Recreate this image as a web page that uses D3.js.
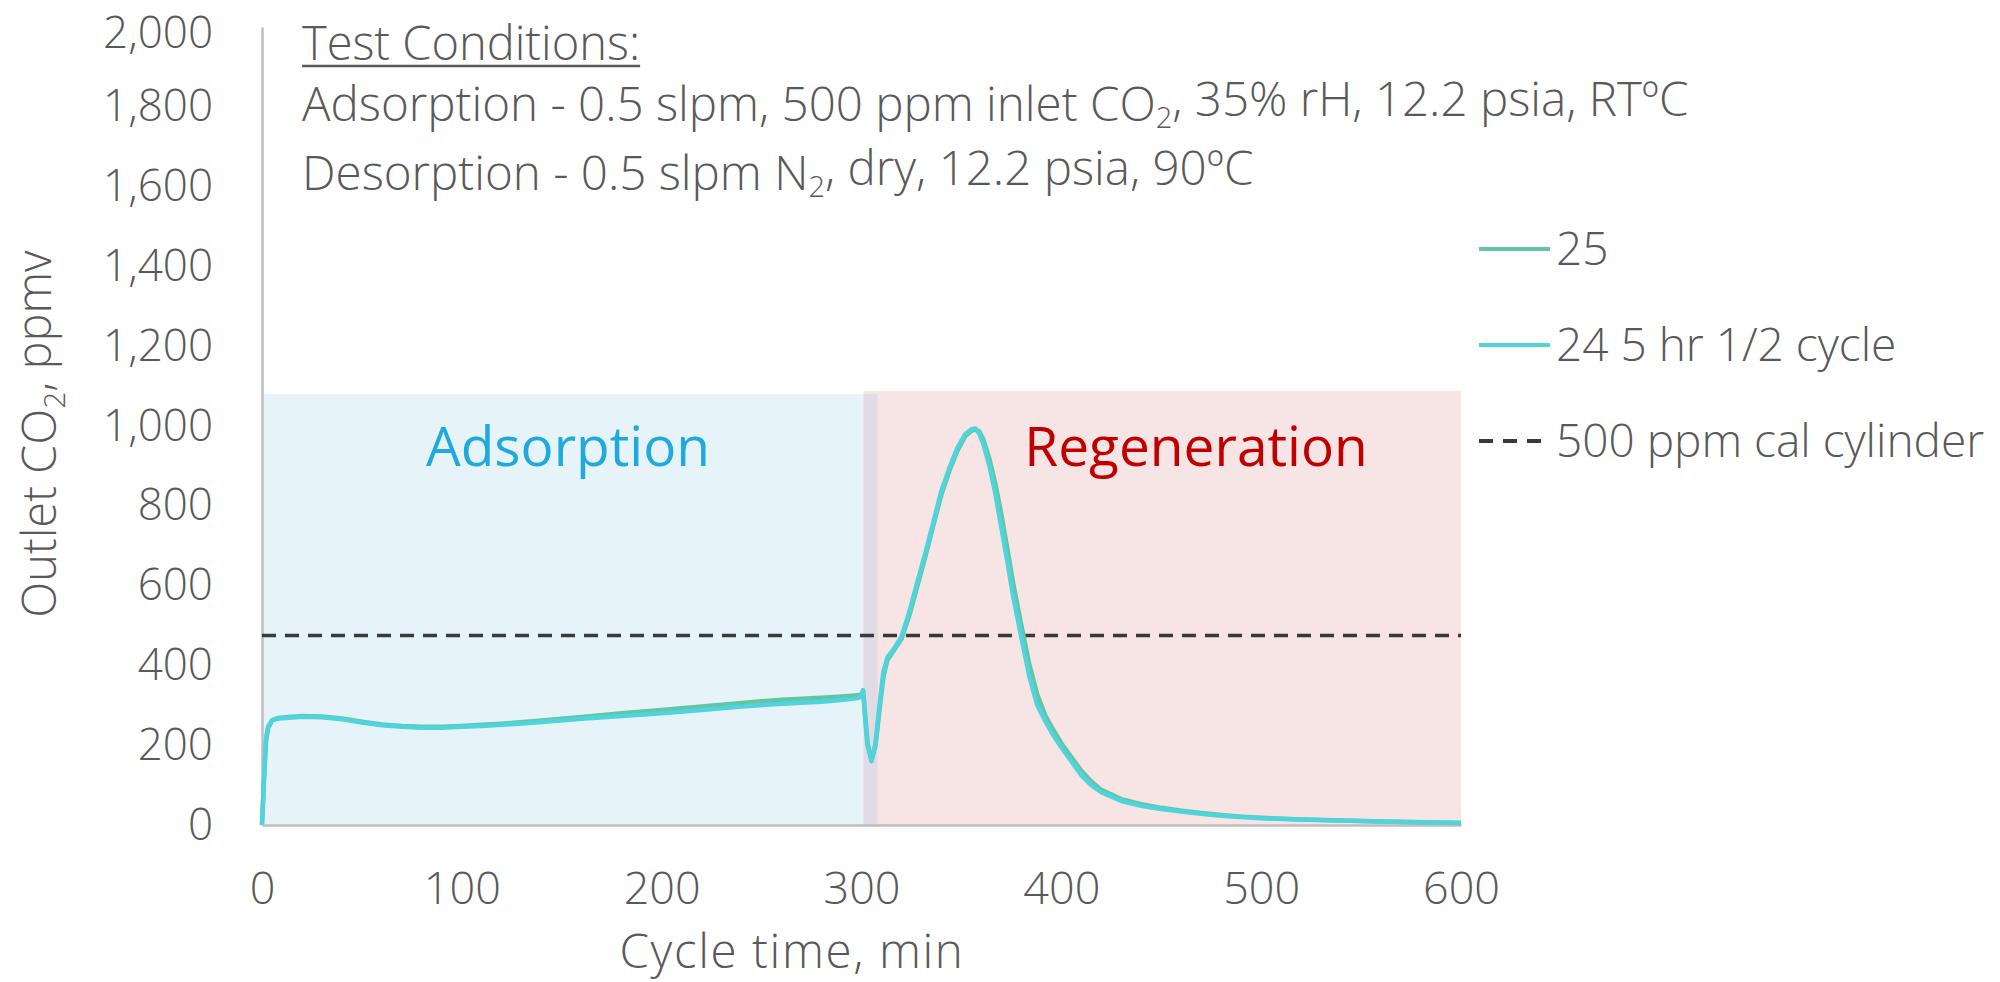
<!DOCTYPE html>
<html>
<head>
<meta charset="utf-8">
<script src="https://cdn.jsdelivr.net/npm/d3@7"></script>
<style>
  body { margin: 0; background: #fff; }
  svg text { font-family: "Open Sans", "Noto Sans", sans-serif; font-weight: 300; fill: #595959; }
</style>
</head>
<body>
<svg id="chart" width="2000" height="982"></svg>
<script>
// Cycle time (min) at which the outlet CO2 of each run was sampled
const timeMin = [0, 1, 2, 3, 5, 8, 12, 20, 30, 40, 50, 60, 70, 80, 90, 100, 110, 120, 140, 160,
  180, 200, 220, 240, 260, 280, 290, 298, 300, 300.8, 302, 303, 305, 307, 309, 311, 313, 316,
  320, 324, 328, 332, 336, 340, 344, 348, 352, 355, 357, 359, 361, 364, 367, 370, 373, 376,
  380, 384, 388, 392, 396, 400, 405, 410, 415, 420, 430, 440, 450, 460, 470, 480, 490, 500,
  520, 540, 560, 580, 600];

// Outlet CO2, ppmv — run 25
const run25 = [0, 112, 208, 242, 262, 268, 270, 273, 272, 267, 259, 252, 248, 246, 246, 248, 251, 254, 262, 271,
  280, 288, 297, 306, 314, 319, 322, 325, 328, 336, 264, 206, 163, 198, 288, 372, 414, 436,
  466, 526, 600, 674, 752, 828, 888, 938, 975, 988, 992, 986, 966, 918, 855, 778, 692, 604,
  500, 402, 326, 274, 238, 205, 170, 136, 109, 88, 65, 52, 43, 36, 30, 25, 21, 18,
  14, 11, 9, 7, 5];

// Outlet CO2, ppmv — run 24, 5 hr half cycle
const run24 = [0, 120, 215, 246, 263, 267, 268, 271, 270, 265, 257, 250, 246, 244, 244, 246, 248, 251, 258, 266,
  273, 280, 288, 297, 304, 309, 313, 318, 322, 338, 258, 200, 160, 205, 300, 385, 420, 440,
  472, 535, 610, 682, 760, 838, 895, 945, 980, 992, 994, 980, 955, 900, 830, 745, 660, 570,
  470, 372, 300, 260, 225, 195, 160, 125, 100, 82, 60, 48, 40, 34, 28, 23, 20, 17,
  14, 11, 9, 7, 5];

// Calibration cylinder reading, ppmv
const calCylinder = 475;

// Test phases: name, start/end time (min) and shaded height (ppmv)
const phaseNames = ["Adsorption", "Regeneration"];
const phaseStart = [0, 301];
const phaseEnd = [308, 600];
const phaseTop = [1080, 1088];

const xTicks = [0, 100, 200, 300, 400, 500, 600];
const yTicks = [0, 200, 400, 600, 800, 1000, 1200, 1400, 1600, 1800, 2000];

const seriesNames = ["25", "24 5 hr 1/2 cycle", "500 ppm cal cylinder"];

const svg = d3.select("#chart");
const x = d3.scaleLinear().domain([0, 600]).range([262, 1461]);
const y = d3.scaleLinear().domain([0, 2000]).range([825, 27]);

const phaseFill = ["#e6f4fa", "#f7e4e4"];
const phaseText = ["#20a9df", "#c00000"];
const lineColor = ["#63c5a1", "#4fd3dc"];

// Shaded phase backgrounds
const phases = svg.append("g").attr("class", "phases");
phaseNames.forEach((name, i) => {
  phases.append("rect")
    .attr("x", x(phaseStart[i]))
    .attr("y", y(phaseTop[i]))
    .attr("width", x(phaseEnd[i]) - x(phaseStart[i]))
    .attr("height", y(0) - y(phaseTop[i]))
    .attr("fill", phaseFill[i]);
});
// overlap between the two phases
phases.append("rect")
  .attr("x", x(phaseStart[1]))
  .attr("y", y(phaseTop[0]))
  .attr("width", x(phaseEnd[0]) - x(phaseStart[1]))
  .attr("height", y(0) - y(phaseTop[0]))
  .attr("fill", "#e1dbe3");

phaseNames.forEach((name, i) => {
  svg.append("text")
    .attr("x", i === 0 ? 568 : 1196)
    .attr("y", 466)
    .attr("text-anchor", "middle")
    .style("font-size", "55px")
    .style("font-weight", 400)
    .style("fill", phaseText[i])
    .text(name);
});

// Axes
const yAxis = d3.axisLeft(y).tickValues(yTicks).tickSize(0).tickPadding(49)
  .tickFormat(d3.format(","));
const xAxis = d3.axisBottom(x).tickValues(xTicks).tickSize(0).tickPadding(47)
  .tickFormat(d3.format("d"));

const gy = svg.append("g").attr("transform", `translate(${x(0)},0)`).call(yAxis);
const gx = svg.append("g").attr("transform", `translate(0,${y(0)})`).call(xAxis);
[gx, gy].forEach(g => {
  g.select(".domain").attr("stroke", "#bfbfbf").attr("stroke-width", 2.5);
  g.selectAll("text").style("font-family", null).attr("fill", null);
});
gy.selectAll("text").style("font-size", "44px")
  .attr("dy", d => d === 2000 ? "0.46em" : "0.32em");   // keep the top label inside the page
gx.selectAll("text").style("font-size", "45px");

// Calibration reference line
svg.append("line")
  .attr("x1", x(0)).attr("x2", x(600))
  .attr("y1", y(calCylinder)).attr("y2", y(calCylinder))
  .attr("stroke", "#38393b").attr("stroke-width", 3.5)
  .attr("stroke-dasharray", "14,9");

// Outlet CO2 traces
const line = d3.line().x((d, i) => x(timeMin[i])).y(d => y(d));
[run25, run24].forEach((vals, k) => {
  svg.append("path")
    .datum(vals)
    .attr("d", line)
    .attr("fill", "none")
    .attr("stroke", lineColor[k])
    .attr("stroke-width", 4.5)
    .attr("stroke-linejoin", "round");
});

// Axis titles
const yt = svg.append("text")
  .attr("transform", "translate(56,434) rotate(-90)")
  .attr("text-anchor", "middle")
  .style("font-size", "47px");
yt.append("tspan").text("Outlet CO");
yt.append("tspan").text("2").attr("dy", "0.3em").style("font-size", "30px");
yt.append("tspan").text(", ppmv").attr("dy", "-0.3em");

svg.append("text")
  .attr("x", 792).attr("y", 967.5)
  .attr("text-anchor", "middle")
  .style("font-size", "47.5px")
  .style("letter-spacing", "1.6px")
  .text("Cycle time, min");

// Test conditions note
const tc = svg.append("text").attr("x", 302).attr("y", 60).style("font-size", "47px").text("Test Conditions:");
const tcw = tc.node().getComputedTextLength();
svg.append("line").attr("x1", 302).attr("x2", 302 + tcw).attr("y1", 66).attr("y2", 66)
  .attr("stroke", "#595959").attr("stroke-width", 2.5);

const l1 = svg.append("text").attr("x", 302).attr("y", 121).style("font-size", "47.5px");
l1.append("tspan").text("Adsorption - 0.5 slpm, 500 ppm inlet CO");
l1.append("tspan").text("2").attr("dy", "0.25em").style("font-size", "29px");
l1.append("tspan").text(", 35% rH, 12.2 psia, RTºC").attr("dy", "-0.25em");

const l2 = svg.append("text").attr("x", 302).attr("y", 190).style("font-size", "47.5px");
l2.append("tspan").text("Desorption - 0.5 slpm N");
l2.append("tspan").text("2").attr("dy", "0.25em").style("font-size", "29px");
l2.append("tspan").text(", dry, 12.2 psia, 90ºC").attr("dy", "-0.25em");

// Legend
const legendY = [249, 345, 441];
const legendStroke = [lineColor[0], lineColor[1], "#38393b"];
seriesNames.forEach((name, i) => {
  const g = svg.append("g").attr("transform", `translate(0,${legendY[i]})`);
  g.append("line").attr("x1", 1479).attr("x2", 1550).attr("y1", 0).attr("y2", 0)
    .attr("stroke", legendStroke[i]).attr("stroke-width", 4)
    .attr("stroke-dasharray", i === 2 ? "14,10" : null);
  g.append("text").attr("x", 1556).attr("dy", "0.35em").style("font-size", "46px").text(name);
});
</script>
</body>
</html>
